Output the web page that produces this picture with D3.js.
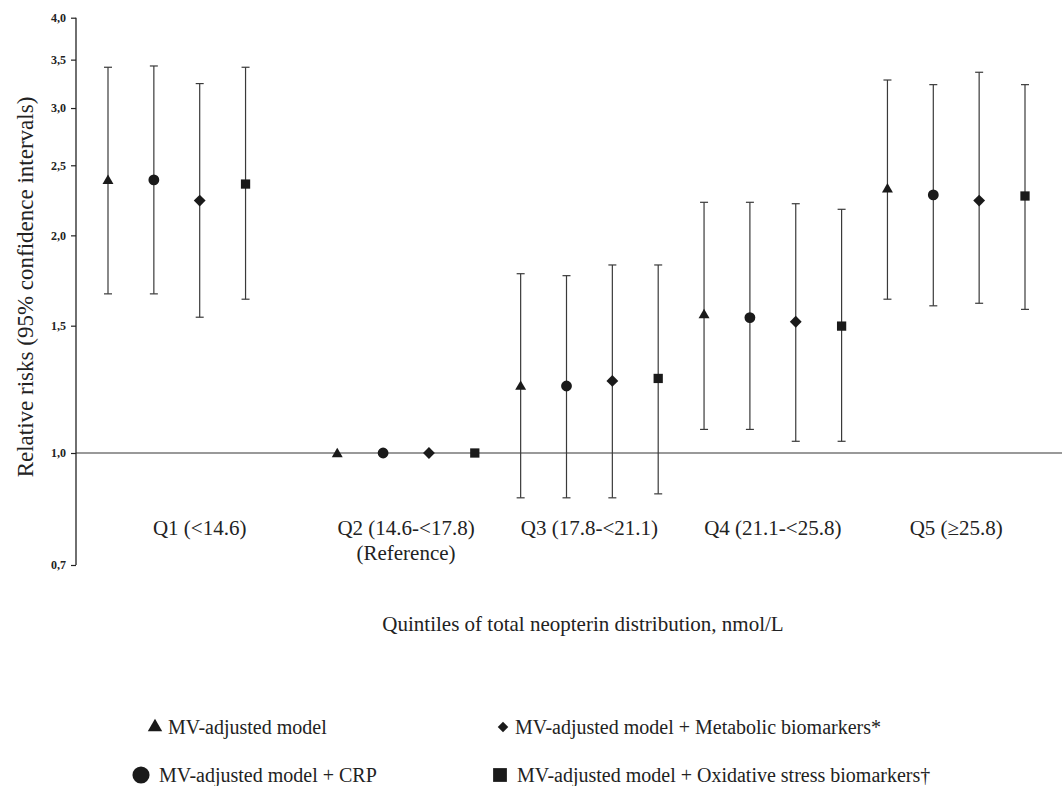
<!DOCTYPE html>
<html>
<head>
<meta charset="utf-8">
<script src="https://cdn.jsdelivr.net/npm/d3@7"></script>
<style>
  html, body { margin: 0; padding: 0; background: #fff; }
  svg { display: block; }
  text { font-family: "Liberation Serif", "Times New Roman", "DejaVu Serif", serif; fill: #222; }
</style>
</head>
<body>
<svg id="chart" width="1062" height="786"></svg>
<script>
// ---- Data ----
const quintiles = ["Q1", "Q2", "Q3", "Q4", "Q5"];
const quintileLabels = [["Q1 (<14.6)"], ["Q2 (14.6-<17.8)", "(Reference)"], ["Q3 (17.8-<21.1)"], ["Q4 (21.1-<25.8)"], ["Q5 (\u226525.8)"]];
const models = ["MV-adjusted model", "MV-adjusted model + CRP", "MV-adjusted model + Metabolic biomarkers*", "MV-adjusted model + Oxidative stress biomarkers\u2020"];
const modelSymbols = ["triangle", "circle", "diamond", "square"];
// Relative risks per model across Q1..Q5
const rrTriangle = [2.386, 1.0, 1.239, 1.557, 2.323];
const rrCircle   = [2.386, 1.0, 1.238, 1.539, 2.275];
const rrDiamond  = [2.234, 1.0, 1.258, 1.519, 2.234];
const rrSquare   = [2.355, 1.0, 1.268, 1.498, 2.267];
const loTriangle = [1.660, null, 0.867, 1.078, 1.632];
const loCircle   = [1.660, null, 0.867, 1.078, 1.598];
const loDiamond  = [1.541, null, 0.867, 1.038, 1.611];
const loSquare   = [1.632, null, 0.878, 1.038, 1.580];
const hiTriangle = [3.416, null, 1.770, 2.222, 3.280];
const hiCircle   = [3.430, null, 1.759, 2.222, 3.232];
const hiDiamond  = [3.243, null, 1.820, 2.212, 3.362];
const hiSquare   = [3.416, null, 1.820, 2.173, 3.232];
const yTicks = [0.7, 1.0, 1.5, 2.0, 2.5, 3.0, 3.5, 4.0];
const yTitle = "Relative risks (95% confidence intervals)";
const xTitle = "Quintiles of total neopterin distribution, nmol/L";

const rr = [rrTriangle, rrCircle, rrDiamond, rrSquare];
const lo = [loTriangle, loCircle, loDiamond, loSquare];
const hi = [hiTriangle, hiCircle, hiDiamond, hiSquare];

// ---- Layout ----
const svg = d3.select("#chart");
const axisX = 76;

const y = d3.scaleLog().domain([0.7, 4.0]).range([565, 17.7]);

// slots: each quintile has 4 model slots, with a spacer slot after Q1
const slots = [];
quintiles.forEach((q, qi) => {
  models.forEach((m, mi) => slots.push(q + "|" + mi));
  if (qi === 0) slots.push("gap");
});
const x = d3.scalePoint().domain(slots).range([108, 1025]);

// ---- Reference line at 1.0 ----
svg.append("line")
  .attr("x1", axisX).attr("x2", 1062)
  .attr("y1", y(1)).attr("y2", y(1))
  .attr("stroke", "#777").attr("stroke-width", 1.5);

// ---- Y axis ----
const yAxis = d3.axisLeft(y).tickValues(yTicks)
  .tickFormat(d => d3.format(".1f")(d).replace(".", ","))
  .tickSize(5).tickSizeOuter(0).tickPadding(5);
const gy = svg.append("g").attr("transform", `translate(${axisX},0)`).call(yAxis);
gy.select(".domain").attr("stroke", "#222").attr("stroke-width", 1.3)
  .attr("d", `M0,${y(0.7)}V${y(4.0)}`);
gy.selectAll(".tick line").attr("stroke", "#222").attr("stroke-width", 1.2);
gy.selectAll(".tick text")
  .style("font-family", '"Liberation Serif", serif')
  .style("font-weight", "bold").style("font-size", "12px").attr("fill", "#222");

// ---- Symbols ----
const symType = { triangle: d3.symbolTriangle, circle: d3.symbolCircle, diamond: d3.symbolSquare, square: d3.symbolSquare };
const symRot = { triangle: 0, circle: 0, diamond: 45, square: 0 };
const symSize = { triangle: 52, circle: 92, diamond: 70, square: 86 };

const points = [];
quintiles.forEach((q, qi) => {
  models.forEach((m, mi) => {
    points.push({ q, mi, rr: rr[mi][qi], lo: lo[mi][qi], hi: hi[mi][qi], sym: modelSymbols[mi] });
  });
});

// ---- Error bars ----
const gBars = svg.append("g");
points.filter(p => p.lo != null).forEach(p => {
  const cx = x(p.q + "|" + p.mi);
  gBars.append("line").attr("x1", cx).attr("x2", cx)
    .attr("y1", y(p.lo)).attr("y2", y(p.hi))
    .attr("stroke", "#3a3a3a").attr("stroke-width", 1.2);
  [p.lo, p.hi].forEach(v => {
    gBars.append("line").attr("x1", cx - 4).attr("x2", cx + 4)
      .attr("y1", y(v)).attr("y2", y(v))
      .attr("stroke", "#3a3a3a").attr("stroke-width", 1.2);
  });
});

// ---- Markers ----
const gPts = svg.append("g");
points.forEach(p => {
  const cx = x(p.q + "|" + p.mi);
  let cy = y(p.rr);
  if (p.sym === "triangle") cy += 1;
  gPts.append("path")
    .attr("d", d3.symbol().type(symType[p.sym]).size(symSize[p.sym])())
    .attr("transform", `translate(${cx},${cy}) rotate(${symRot[p.sym]})`)
    .attr("fill", "#1a1a1a");
});

// ---- Category labels ----
quintiles.forEach((q, qi) => {
  const keys = models.map((m, mi) => q + "|" + mi);
  if (qi === 0) keys.push("gap");
  const cx = d3.mean(keys, k => x(k));
  const t = svg.append("text").attr("text-anchor", "middle")
    .attr("x", cx).attr("y", 535).style("font-size", "21px");
  quintileLabels[qi].forEach((line, li) => {
    t.append("tspan").attr("x", cx).attr("dy", li === 0 ? 0 : 25).text(line);
  });
});

// ---- Axis titles ----
svg.append("text").attr("text-anchor", "middle")
  .attr("transform", `translate(33,287) rotate(-90)`)
  .style("font-size", "23px").text(yTitle);

svg.append("text").attr("text-anchor", "middle")
  .attr("x", 583).attr("y", 631)
  .style("font-size", "21px").text(xTitle);

// ---- Legend ----
const legendPos = [
  { sx: 155, tx: 168, ty: 734, size: 90 },
  { sx: 141, tx: 159, ty: 782, size: 230 },
  { sx: 503, tx: 515, ty: 734, size: 55 },
  { sx: 500, tx: 517, ty: 782, size: 190 }
];
models.forEach((m, mi) => {
  const lp = legendPos[mi];
  const sy = lp.ty - 7;
  svg.append("path")
    .attr("d", d3.symbol().type(symType[modelSymbols[mi]]).size(lp.size)())
    .attr("transform", `translate(${lp.sx},${sy}) rotate(${symRot[modelSymbols[mi]]})`)
    .attr("fill", "#1a1a1a");
  svg.append("text").attr("x", lp.tx).attr("y", lp.ty)
    .style("font-size", "20px").text(m);
});
</script>
</body>
</html>
